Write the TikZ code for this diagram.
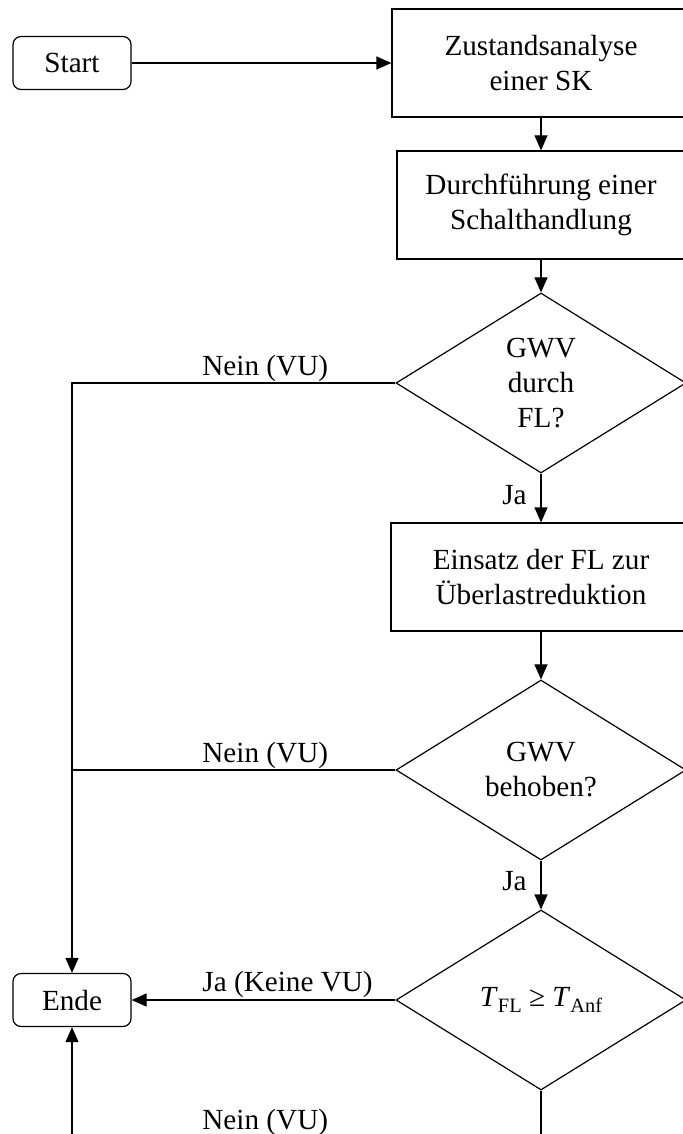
\documentclass[tikz,border=0pt]{standalone}
\usepackage{fontspec}
\setmainfont{Liberation Serif}
\usetikzlibrary{arrows.meta,shapes.geometric}

% italic symbol with a lowered upright index
\newcommand{\tsub}[2]{\textit{#1}\raisebox{-0.22em}{\fontsize{10.2pt}{10pt}\selectfont #2}}

\begin{document}
\begin{tikzpicture}[x=0.5pt,y=-0.5pt,font=\fontsize{14.6pt}{17.5pt}\selectfont,
  term/.style={draw,line width=0.6pt,rounded corners=4pt,minimum width=59pt,minimum height=26.5pt,inner sep=0pt},
  block/.style={draw,line width=0.6pt,align=center,minimum height=54pt,inner sep=0pt},
  decision/.style={draw,line width=0.6pt,diamond,shape aspect=1.6,align=center,minimum width=145pt,minimum height=90pt,inner sep=0pt},
  arrow/.style={-{Triangle[length=7.5pt,width=6.5pt]},line width=0.6pt},
  link/.style={line width=0.6pt},
  lbl/.style={anchor=base west,inner sep=0pt}]
\path[use as bounding box,clip] (0,0) rectangle (683,1134);
\node[term] (n0) at (72,63) {Start};
\node[block,minimum width=149pt] (n1) at (541,63) {Zustandsanalyse\\einer SK};
\node[block,minimum width=144pt] (n2) at (541,205) {Durchführung einer\\Schalthandlung};
\node[decision] (n3) at (541,383) {GWV\\durch\\FL?};
\node[block,minimum width=150pt] (n4) at (541,577) {Einsatz der FL zur\\Überlastreduktion};
\node[decision] (n5) at (541,770) {GWV\\behoben?};
\node[decision] (n6) at (541,1000) {\tsub{T}{FL} ≥ \tsub{T}{Anf}};
\node[term] (n7) at (72,1000) {Ende};
\coordinate (c0) at (541,1138);
% main column
\draw[arrow] (n0) -- (n1);
\draw[arrow] (n1) -- (n2);
\draw[arrow] (n2) -- (n3);
\draw[arrow] (n3) -- (n4);
\draw[arrow] (n4) -- (n5);
\draw[arrow] (n5) -- (n6);
% branches back to the end node
\draw[arrow] (n3.west) -| (n7.north);
\draw[link] (n5.west) -- (n5.west -| n7.north);
\draw[arrow] (n6.west) -- (n7.east);
\draw[arrow] (n6.south) -- (c0) -| (n7.south);
\node[lbl] (l0) at (202,375) {Nein (VU)};
\node[lbl] (l1) at (202,762) {Nein (VU)};
\node[lbl] (l2) at (202,991) {Ja (Keine VU)};
\node[lbl] (l3) at (202,1129) {Nein (VU)};
\node[lbl,anchor=base east] (l4) at (527,504) {Ja};
\node[lbl,anchor=base east] (l5) at (527,890) {Ja};
\end{tikzpicture}
\end{document}
